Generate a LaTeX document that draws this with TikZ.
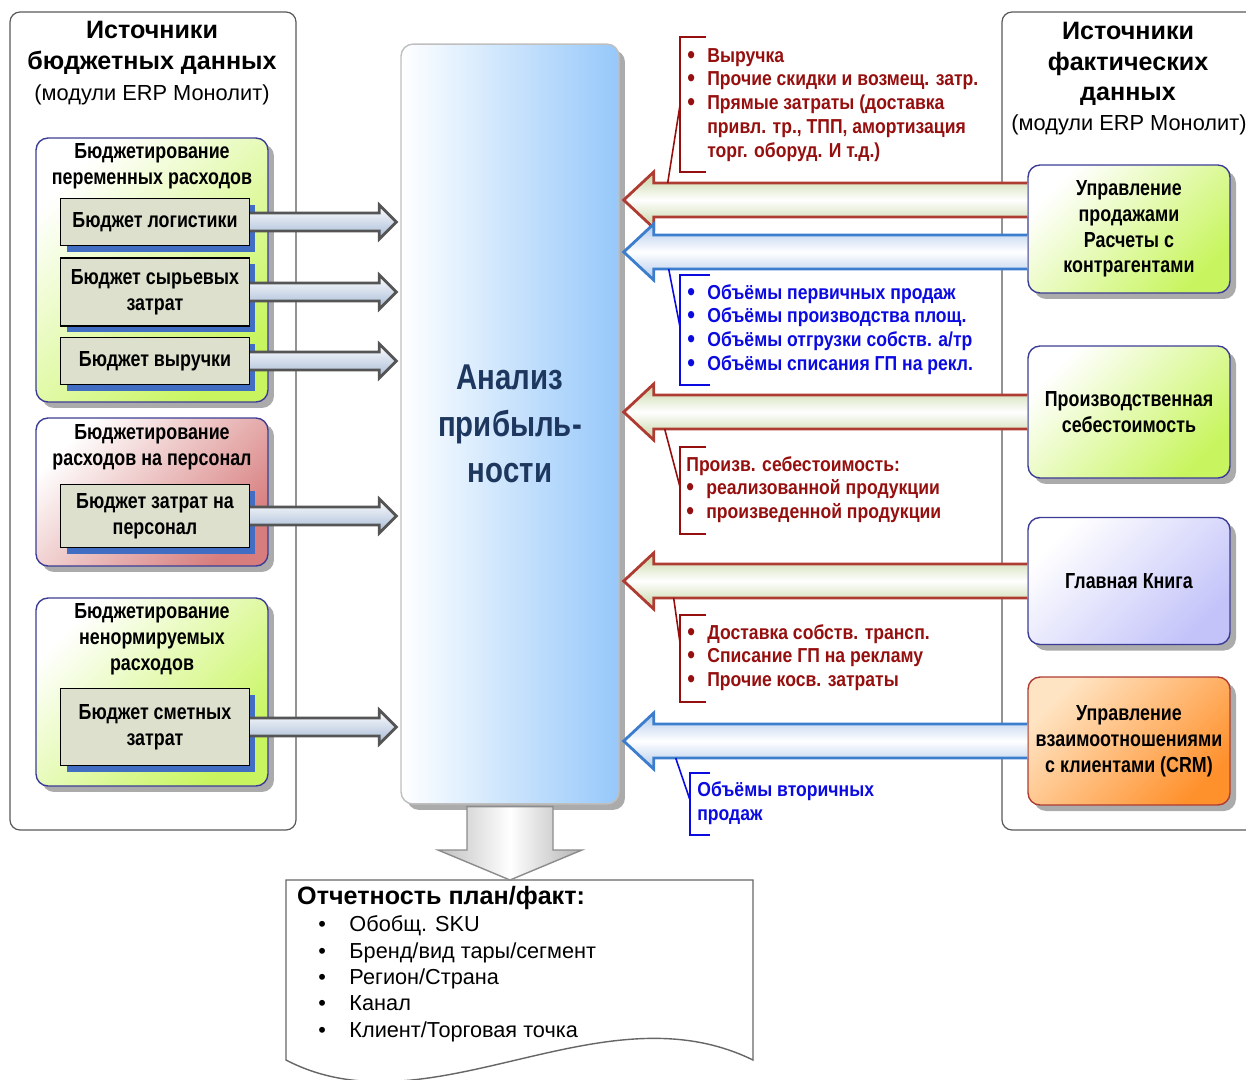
\documentclass[tikz,border=0pt]{standalone}
\usepackage{fontspec}
\setmainfont{Liberation Sans}
\newfontfamily\narrowfont[FakeStretch=0.82]{Liberation Sans}
\newfontfamily\notefont[FakeStretch=0.87]{Liberation Sans}
\usetikzlibrary{calc,shadows}

\definecolor{grpblue}{RGB}{60,60,150}
\definecolor{limeg}{RGB}{200,245,95}
\definecolor{pinkred}{RGB}{215,125,125}
\definecolor{lavender}{RGB}{195,195,250}
\definecolor{orangeb}{RGB}{255,145,45}
\definecolor{orangel}{RGB}{255,228,195}
\definecolor{khaki}{RGB}{221,224,204}
\definecolor{shadblue}{RGB}{65,110,195}
\definecolor{anablue}{RGB}{150,200,250}
\definecolor{anatext}{RGB}{30,55,95}
\definecolor{notered}{RGB}{150,15,15}
\definecolor{noteblue}{RGB}{10,10,225}
\definecolor{arrgray}{RGB}{85,85,85}
\definecolor{arrred}{RGB}{175,60,50}
\definecolor{arrblue}{RGB}{60,125,205}
\definecolor{greenarr}{RGB}{195,212,160}
\definecolor{bluearr}{RGB}{175,200,235}

\newcommand\bul{\raisebox{-0.05em}{\scalebox{1.25}{•}}}

\tikzset{
  outerframe/.style={draw=black!65, line width=0.7pt, rounded corners=0.2cm},
  headtxt/.style={font=\bfseries\fontsize{14.3}{17.5}\selectfont, align=center},
  subtxt/.style={font=\fontsize{12.4}{14}\selectfont},
  narrowtxt/.style={font=\narrowfont\bfseries\fontsize{12.4}{14.7}\selectfont, align=center},
  softshadow/.style={drop shadow={shadow xshift=0.12cm, shadow yshift=-0.12cm, fill=black!55, opacity=0.6}},
  grpbox/.style={draw=grpblue, line width=0.8pt, rounded corners=0.24cm, minimum width=4.64cm, softshadow},
  greenfill/.style={left color=white, right color=limeg, shading angle=45},
  redfill/.style={left color=white, right color=pinkred, shading angle=45},
  budget/.style={narrowtxt, draw=black, line width=0.8pt, fill=khaki, minimum width=3.78cm,
    drop shadow={shadow xshift=0.12cm, shadow yshift=-0.12cm, fill=shadblue, opacity=1}},
  source/.style={narrowtxt, draw=grpblue, line width=0.8pt, rounded corners=0.24cm, minimum width=4.04cm, softshadow},
  anabox/.style={draw=black!25, line width=0.8pt, rounded corners=0.24cm, left color=white, right color=anablue,
    minimum width=4.36cm, minimum height=15.2cm, softshadow, text=anatext, align=center,
    font=\narrowfont\bfseries\fontsize{20.4}{26.6}\selectfont},
  rarrow/.style={draw=arrgray, line width=1.6pt, top color=white, bottom color=bluearr!80!gray},
  greenarrow/.style={draw=arrred, line width=1.6pt, top color=greenarr, bottom color=greenarr, middle color=white},
  bluearrow/.style={draw=arrblue, line width=1.6pt, top color=bluearr, bottom color=bluearr, middle color=white},
  downarr/.style={draw=black!45, line width=0.8pt, left color=black!25, right color=black!30, middle color=white},
  docline/.style={draw=black!60, line width=0.8pt, fill=white},
  rednote/.style={anchor=north west, inner sep=0pt, text=notered, font=\notefont\bfseries\fontsize{11.5}{13.6}\selectfont},
  bluenote/.style={rednote, text=noteblue},
  redline/.style={draw=notered, line width=0.9pt},
  blueline/.style={draw=noteblue, line width=0.9pt},
  reptxt/.style={anchor=north west, inner sep=0pt, font=\fontsize{12.35}{15}\selectfont},
}

% block arrow to the right: tail, tip
\newcommand\rblock[2]{%
  \path[rarrow] (#1) ++(0,-9) -- ($(#2)+(-17,-9)$) -- ($(#2)+(-17,-17)$) -- (#2)
    -- ($(#2)+(-17,17)$) -- ($(#2)+(-17,9)$) -- ($(#1)+(0,9)$);}
% block arrow to the left: style, tail, tip
\newcommand\lblock[3]{%
  \path[#1] (#2) ++(0,-17) -- ($(#3)+(30,-17)$) -- ($(#3)+(30,-28)$) -- (#3)
    -- ($(#3)+(30,28)$) -- ($(#3)+(30,17)$) -- ($(#2)+(0,17)$);}

\begin{document}
\begin{tikzpicture}[x=0.02cm, y=-0.02cm]
\useasboundingbox (0,0) rectangle (1246,1079);

% frames
\draw[outerframe] (10,12) rectangle (296,830);
\draw[outerframe] (1246,12) -- (1002,12) -- (1002,830) -- (1246,830);
\node[headtxt] (budgethead) at (152,48) {Источники\\бюджетных данных};
\node[subtxt] (budgetsub) at (152,95) {(модули ERP Монолит)};
\node[headtxt] (facthead) at (1128,64) {Источники\\фактических\\данных};
\node[subtxt] (factsub) at (1129,125) {(модули ERP Монолит)};

% budget groups
\node[grpbox, greenfill, minimum height=5.28cm] (grpvar) at (152,270) {};
\node[narrowtxt] (grpvartxt) at (152,166) {Бюджетирование\\переменных расходов};
\node[grpbox, redfill, minimum height=2.96cm] (grpstaff) at (152,492) {};
\node[narrowtxt] (grpstafftxt) at (152,447) {Бюджетирование\\расходов на персонал};
\node[grpbox, greenfill, minimum height=3.76cm] (grpother) at (152,692) {};
\node[narrowtxt] (grpothertxt) at (152,639) {Бюджетирование\\ненормируемых\\расходов};

\node[budget, minimum height=0.94cm] (logist) at (155,222) {Бюджет логистики};
\node[budget, minimum height=1.36cm] (raw) at (155,292) {Бюджет сырьевых\\затрат};
\node[budget, minimum height=0.94cm] (revenue) at (155,361) {Бюджет выручки};
\node[budget, minimum height=1.26cm] (staff) at (155,516) {Бюджет затрат на\\персонал};
\node[budget, minimum height=1.54cm] (estimate) at (155,727) {Бюджет сметных\\затрат};

% centre
\node[anabox] (ana) at (510,424) {Анализ\\прибыль-\\ности};
\foreach \b in {logist,raw,revenue,staff,estimate} {
  \path (ana.west |- \b.east) ++(-4,0) coordinate (tip);
  \rblock{\b.east}{tip}
}

% report
\draw[docline] (286,1060) -- (286,880) -- (753,880) -- (753,1060)
  .. controls (600,985) and (430,1135) .. (286,1060) -- cycle;
\coordinate (doctip) at (510,880);
\path[downarr] ($(ana.south)+(-43,2)$) -- ($(doctip)+(-43,-30)$) -- ($(doctip)+(-72,-30)$) -- (doctip)
  -- ($(doctip)+(72,-30)$) -- ($(doctip)+(43,-30)$) -- ($(ana.south)+(43,2)$) -- cycle;
\node[anchor=west, font=\bfseries\fontsize{14.3}{16}\selectfont] (rephead) at (291,898) {Отчетность план/факт:};
\node[reptxt] (replist) at (318,913) {\begin{tabular}{@{}l@{\hspace{13.4pt}}l@{}}
  • & Обобщ. SKU\\ • & Бренд/вид тары/сегмент\\ • & Регион/Страна\\ • & Канал\\ • & Клиент/Торговая точка
  \end{tabular}};

% sources of actual data
\node[source, greenfill, minimum height=2.56cm] (sales) at (1129,229) {Управление\\продажами\\Расчеты с\\контрагентами};
\node[source, greenfill, minimum height=2.64cm] (prodcost) at (1129,412) {Производственная\\себестоимость};
\node[source, left color=white, right color=lavender, shading angle=45, minimum height=2.54cm] (ledger) at (1129,581) {Главная Книга};
\node[source, draw=arrred, left color=orangel, right color=orangeb, shading angle=45, minimum height=2.56cm] (crm) at (1129,741) {Управление\\взаимоотношениями\\с клиентами (CRM)};

\path (sales.west) ++(0,-29) coordinate (tailA) (ana.east |- tailA) ++(4,0) coordinate (tipA);
\path (sales.west) ++(0,23) coordinate (tailB) (ana.east |- tailB) ++(4,0) coordinate (tipB);
\path (prodcost.west) coordinate (tailC) (ana.east |- tailC) ++(4,0) coordinate (tipC);
\path (ledger.west) coordinate (tailD) (ana.east |- tailD) ++(4,0) coordinate (tipD);
\path (crm.west) coordinate (tailE) (ana.east |- tailE) ++(4,0) coordinate (tipE);
\lblock{greenarrow}{tailA}{tipA}
\lblock{bluearrow}{tailB}{tipB}
\lblock{greenarrow}{tailC}{tipC}
\lblock{greenarrow}{tailD}{tipD}
\lblock{bluearrow}{tailE}{tipE}

% notes
\node[rednote] (notesales) at (687,45) {\begin{tabular}{@{}l@{\hspace{7pt}}l@{}}
  \bul & Выручка\\ \bul & Прочие скидки и возмещ. затр.\\ \bul & Прямые затраты (доставка\\
    & привл. тр., ТПП, амортизация\\ & торг. оборуд. И т.д.)
  \end{tabular}};
\draw[redline] (706,37) -- (680,37) -- (680,172) -- (706,172);
\coordinate (brkA) at (680,105);
\draw[redline] (brkA) -- ($(tipA)+(44,-17)$);

\node[bluenote] (notevol) at (687,282) {\begin{tabular}{@{}l@{\hspace{7pt}}l@{}}
  \bul & Объёмы первичных продаж\\ \bul & Объёмы производства площ.\\
  \bul & Объёмы отгрузки собств. а/тр\\ \bul & Объёмы списания ГП на рекл.
  \end{tabular}};
\draw[blueline] (710,275) -- (680,275) -- (680,385) -- (710,385);
\coordinate (brkB) at (680,327);
\draw[blueline] (brkB) -- ($(tipB)+(45,17)$);

\node[rednote] (notecost) at (686,454) {\begin{tabular}{@{}l@{\hspace{7pt}}l@{}}
  \multicolumn{2}{@{}l@{}}{Произв. себестоимость:}\\
  \bul & реализованной продукции\\ \bul & произведенной продукции
  \end{tabular}};
\draw[redline] (706,447) -- (680,447) -- (680,534) -- (706,534);
\coordinate (brkC) at (680,487);
\draw[redline] (brkC) -- ($(tipC)+(41,17)$);

\node[rednote] (noteledger) at (687,622) {\begin{tabular}{@{}l@{\hspace{7pt}}l@{}}
  \bul & Доставка собств. трансп.\\ \bul & Списание ГП на рекламу\\ \bul & Прочие косв. затраты
  \end{tabular}};
\draw[redline] (706,615) -- (680,615) -- (680,702) -- (706,702);
\coordinate (brkD) at (680,643);
\draw[redline] (brkD) -- ($(tipD)+(50,17)$);

\node[bluenote, align=left] (notecrm) at (697,781) {Объёмы вторичных\\продаж};
\draw[blueline] (710,773) -- (690,773) -- (690,835) -- (710,835);
\coordinate (brkE) at (690,800);
\draw[blueline] (brkE) -- ($(tipE)+(52,17)$);
\end{tikzpicture}
\end{document}
